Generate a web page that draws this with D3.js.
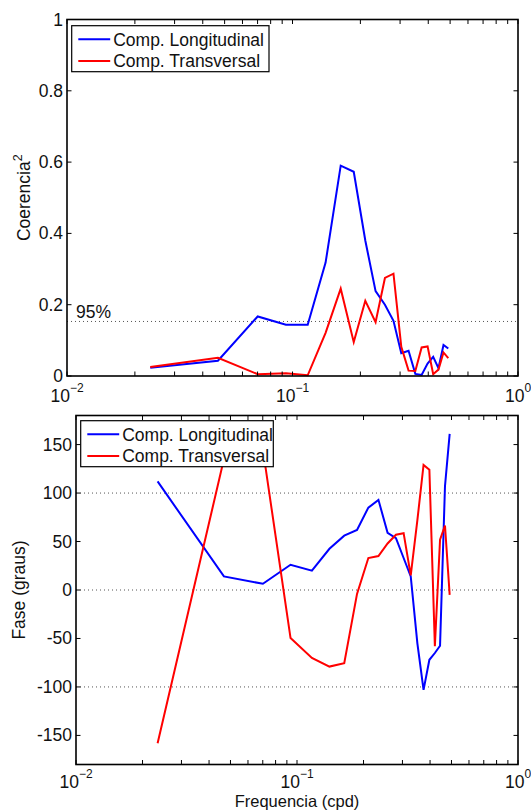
<!DOCTYPE html>
<html>
<head>
<meta charset="utf-8">
<script src="https://cdn.jsdelivr.net/npm/d3@7"></script>
<style>
  html, body { margin: 0; padding: 0; background: #fff; }
  svg { display: block; font-family: "Liberation Sans", Arial, Helvetica, sans-serif; }
</style>
</head>
<body>
<svg id="chart" width="531" height="811"></svg>
<script>
// ---- data ----
const freq = [0.0234, 0.0467, 0.0701, 0.0935, 0.1168, 0.1402, 0.1636, 0.1869, 0.2103, 0.2336,
              0.2570, 0.2804, 0.3037, 0.3271, 0.3505, 0.3738, 0.3972, 0.4206, 0.4439, 0.4673, 0.4907];
const cohLong  = [0.023, 0.043, 0.167, 0.144, 0.144, 0.318, 0.590, 0.573, 0.380, 0.238,
                  0.200, 0.155, 0.064, 0.071, 0.006, 0.003, 0.035, 0.054, 0.022, 0.087, 0.077];
const cohTrans = [0.025, 0.051, 0.005, 0.008, 0.002, 0.121, 0.245, 0.095, 0.211, 0.151,
                  0.275, 0.287, 0.082, 0.015, 0.014, 0.080, 0.083, 0.005, 0.018, 0.066, 0.050];
const phaseLong  = [112, 14, 6.4, 26, 20, 42.5, 56, 62, 85, 93,
                    59, 53.5, 33, 14, -55, -103, -72, -65, -57.5, 107, 161];
const phaseTrans = [-158, 135, 145, -49.6, -70, -79, -75.5, -4, 33, 35,
                    48, 57, 58.6, 15, 72, 129, 124, -58, 52, 66.5, -5];
const seriesNames = ["Comp. Longitudinal", "Comp. Transversal"];
const seriesColors = ["#0000ff", "#ff0000"];
const confLevel = 0.153;
const confLabel = "95%";
const cohTicks = [0, 0.2, 0.4, 0.6, 0.8, 1];
const cohTickLabels = ["0", "0.2", "0.4", "0.6", "0.8", "1"];
const phaseTicks = [-150, -100, -50, 0, 50, 100, 150];
const phaseTickLabels = ["-150", "-100", "-50", "0", "50", "100", "150"];
const phaseGrid = [-100, 0, 100];
const decadeTicks = [0.01, 0.1, 1];
const decadeExps = ["-2", "-1", "0"];
const minorTicks = [0.02, 0.03, 0.04, 0.05, 0.06, 0.07, 0.08, 0.09, 0.2, 0.3, 0.4, 0.5, 0.6, 0.7, 0.8, 0.9];

const svg = d3.select("#chart");
const FS = 17.5;
const TL = 4.5;

function panel(cfg) {
  const x = d3.scaleLog().domain([0.01, 1]).range([cfg.left, cfg.right]);
  const y = d3.scaleLinear().domain(cfg.yDomain).range([cfg.bottom, cfg.top]);
  const g = svg.append("g");

  (cfg.grid || []).forEach(v => {
    g.append("line").attr("x1", cfg.left).attr("x2", cfg.right)
      .attr("y1", y(v)).attr("y2", y(v))
      .attr("stroke", "#555").attr("stroke-width", 1).attr("stroke-dasharray", "1,3");
  });

  const line = d3.line().x((d, i) => x(freq[i])).y(d => y(d));
  cfg.series.forEach((s, k) => {
    g.append("path").datum(s).attr("d", line)
      .attr("fill", "none").attr("stroke", seriesColors[k]).attr("stroke-width", 2)
      .attr("stroke-linejoin", "miter");
  });

  g.append("rect").attr("x", cfg.left).attr("y", cfg.top)
    .attr("width", cfg.right - cfg.left).attr("height", cfg.bottom - cfg.top)
    .attr("fill", "none").attr("stroke", "#000").attr("stroke-width", 1.6);

  decadeTicks.concat(minorTicks).forEach(v => {
    const xx = x(v);
    g.append("line").attr("x1", xx).attr("x2", xx).attr("y1", cfg.bottom).attr("y2", cfg.bottom - TL)
      .attr("stroke", "#000").attr("stroke-width", 1);
    g.append("line").attr("x1", xx).attr("x2", xx).attr("y1", cfg.top).attr("y2", cfg.top + TL)
      .attr("stroke", "#000").attr("stroke-width", 1);
  });
  // 10^n labels: base and exponent as separate texts, centred together on the tick
  decadeTicks.forEach((v, i) => {
    const by = cfg.bottom + cfg.xLabOff;
    const base = g.append("text").attr("y", by).attr("font-size", FS).attr("fill", "#111").text("10");
    const ex = g.append("text").attr("y", by - 10).attr("font-size", 12).attr("fill", "#111")
      .text(decadeExps[i].replace("-", "\u2212"));
    const wb = base.node().getComputedTextLength();
    const we = ex.node().getComputedTextLength();
    const x0 = x(v) - (wb + we) / 2;
    base.attr("x", x0);
    ex.attr("x", x0 + wb);
  });

  cfg.yTicks.forEach((v, i) => {
    const yy = y(v);
    g.append("line").attr("x1", cfg.left).attr("x2", cfg.left + TL).attr("y1", yy).attr("y2", yy)
      .attr("stroke", "#000").attr("stroke-width", 1);
    g.append("line").attr("x1", cfg.right).attr("x2", cfg.right - TL).attr("y1", yy).attr("y2", yy)
      .attr("stroke", "#000").attr("stroke-width", 1);
    g.append("text").attr("x", cfg.left - 4).attr("y", yy + 6)
      .attr("text-anchor", "end").attr("font-size", FS).attr("fill", "#111")
      .text(cfg.yTickLabels[i]);
  });

  const lx = cfg.left + 4.7, ly = cfg.top + cfg.legendDy;
  g.append("rect").attr("x", lx).attr("y", ly).attr("width", cfg.legendW).attr("height", 46)
    .attr("fill", "#fff").attr("stroke", "#000").attr("stroke-width", 1.2);
  seriesNames.forEach((name, k) => {
    const ry = ly + 13.5 + k * 21.8;
    g.append("line").attr("x1", lx + 6.6).attr("x2", lx + 38.5).attr("y1", ry).attr("y2", ry)
      .attr("stroke", seriesColors[k]).attr("stroke-width", 2);
    g.append("text").attr("x", lx + 41.5).attr("y", ry + 6.3).attr("font-size", FS).attr("fill", "#111")
      .text(name);
  });
  return { x, y, g };
}

// ---- top panel: coherence ----
const cohPanel = panel({
  left: 67, right: 518, top: 19.5, bottom: 376, xLabOff: 26,
  yDomain: [0, 1], yTicks: cohTicks, yTickLabels: cohTickLabels,
  series: [cohLong, cohTrans], grid: [confLevel], legendDy: 6.2, legendW: 197.3
});
cohPanel.g.append("text").attr("x", 76).attr("y", cohPanel.y(confLevel) - 3.5)
  .attr("font-size", FS).attr("fill", "#111").text(confLabel);
const yl1 = cohPanel.g.append("text")
  .attr("transform", `translate(30,${(19.5 + 376) / 2}) rotate(-90)`)
  .attr("text-anchor", "middle").attr("font-size", FS).attr("fill", "#111");
yl1.append("tspan").text("Coerencia");
yl1.append("tspan").attr("dy", -8).attr("font-size", 12.5).text("2");

// ---- bottom panel: phase ----
const phasePanel = panel({
  left: 76, right: 518, top: 415.5, bottom: 764.5, xLabOff: 23.5,
  yDomain: [-180, 180], yTicks: phaseTicks, yTickLabels: phaseTickLabels,
  series: [phaseLong, phaseTrans], grid: phaseGrid, legendDy: 5.2, legendW: 192.6
});
phasePanel.g.append("text")
  .attr("transform", `translate(25,${(415.5 + 764.5) / 2}) rotate(-90)`)
  .attr("text-anchor", "middle").attr("font-size", FS).attr("fill", "#111")
  .text("Fase (graus)");
phasePanel.g.append("text").attr("x", (76 + 518) / 2).attr("y", 807)
  .attr("text-anchor", "middle").attr("font-size", 16.5).attr("fill", "#111")
  .text("Frequencia (cpd)");
</script>
</body>
</html>
